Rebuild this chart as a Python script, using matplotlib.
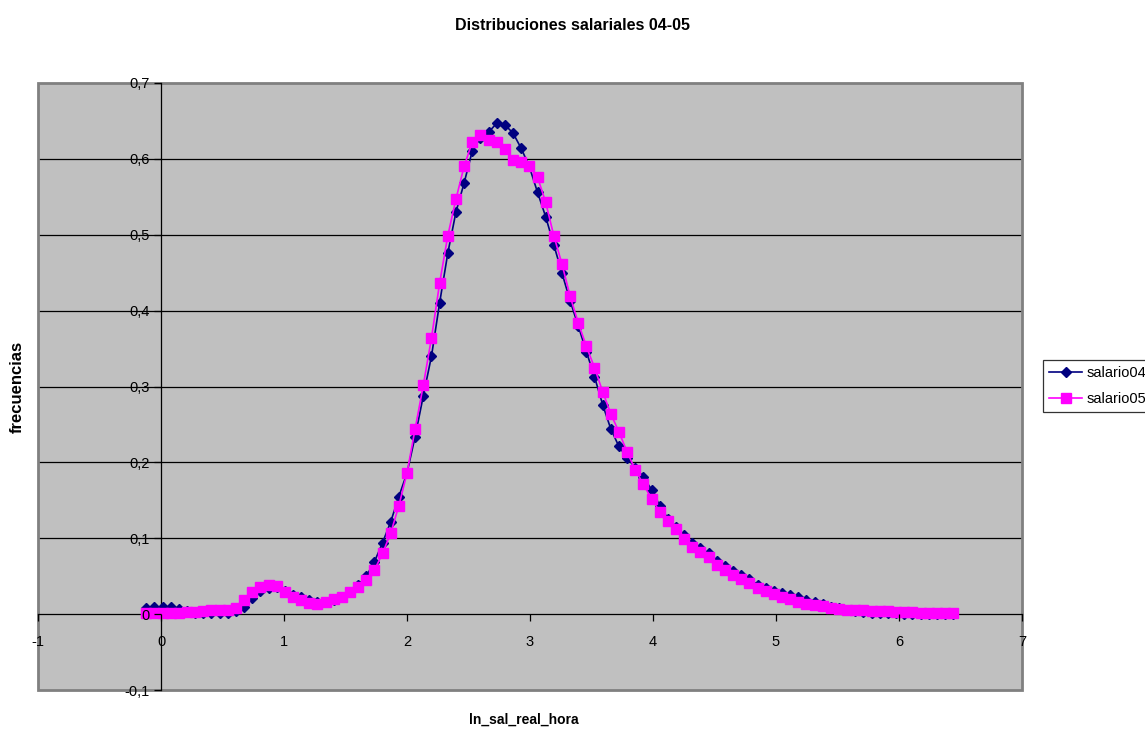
import matplotlib
matplotlib.use("Agg")
import matplotlib.pyplot as plt
from matplotlib.patches import Rectangle

plt.rcParams["font.family"] = ["Liberation Sans", "DejaVu Sans"]

# kernel density grid (ln of real hourly wage)
x_grid = [-0.120, -0.054, 0.013, 0.079, 0.145, 0.211, 0.278, 0.344, 0.410, 0.476,
          0.543, 0.609, 0.675, 0.741, 0.808, 0.874, 0.940, 1.006, 1.073, 1.139,
          1.205, 1.271, 1.338, 1.404, 1.470, 1.537, 1.603, 1.669, 1.735, 1.801,
          1.868, 1.934, 2.000, 2.066, 2.133, 2.199, 2.265, 2.332, 2.398, 2.464,
          2.530, 2.597, 2.663, 2.729, 2.795, 2.862, 2.928, 2.994, 3.061, 3.127,
          3.193, 3.259, 3.326, 3.392, 3.458, 3.524, 3.591, 3.657, 3.723, 3.789,
          3.856, 3.922, 3.988, 4.055, 4.121, 4.187, 4.253, 4.320, 4.386, 4.452,
          4.518, 4.585, 4.651, 4.717, 4.783, 4.850, 4.916, 4.982, 5.049, 5.115,
          5.181, 5.247, 5.314, 5.380, 5.446, 5.512, 5.579, 5.645, 5.711, 5.777,
          5.844, 5.910, 5.976, 6.042, 6.109, 6.175, 6.241, 6.308, 6.374, 6.440]

salario04 = [0.008, 0.009, 0.010, 0.009, 0.007, 0.004, 0.002, 0.001, 0.001, 0.001,
             0.002, 0.004, 0.010, 0.021, 0.030, 0.035, 0.036, 0.031, 0.025, 0.022,
             0.019, 0.016, 0.016, 0.019, 0.023, 0.029, 0.038, 0.050, 0.069, 0.094,
             0.122, 0.155, 0.186, 0.234, 0.288, 0.340, 0.410, 0.476, 0.530, 0.568,
             0.610, 0.628, 0.635, 0.647, 0.645, 0.634, 0.614, 0.590, 0.556, 0.524,
             0.487, 0.450, 0.413, 0.380, 0.346, 0.313, 0.276, 0.244, 0.221, 0.206,
             0.193, 0.181, 0.164, 0.143, 0.126, 0.115, 0.104, 0.094, 0.087, 0.080,
             0.070, 0.063, 0.057, 0.051, 0.046, 0.039, 0.035, 0.031, 0.028, 0.025,
             0.022, 0.019, 0.016, 0.013, 0.010, 0.008, 0.006, 0.004, 0.003, 0.002,
             0.001, 0.001, 0.001, 0.000, 0.000, 0.000, 0.000, 0.000, 0.000, 0.000]

salario05 = [0.001, 0.001, 0.001, 0.002, 0.002, 0.003, 0.003, 0.004, 0.005, 0.005,
             0.006, 0.008, 0.018, 0.029, 0.036, 0.038, 0.037, 0.029, 0.022, 0.018,
             0.015, 0.013, 0.016, 0.020, 0.022, 0.029, 0.036, 0.045, 0.058, 0.080,
             0.107, 0.143, 0.186, 0.244, 0.302, 0.364, 0.436, 0.499, 0.547, 0.590,
             0.622, 0.631, 0.625, 0.622, 0.613, 0.598, 0.596, 0.591, 0.576, 0.543,
             0.499, 0.462, 0.419, 0.384, 0.353, 0.325, 0.293, 0.264, 0.240, 0.214,
             0.190, 0.171, 0.152, 0.135, 0.123, 0.112, 0.099, 0.089, 0.082, 0.075,
             0.065, 0.058, 0.052, 0.046, 0.041, 0.034, 0.030, 0.026, 0.023, 0.020,
             0.016, 0.014, 0.012, 0.011, 0.008, 0.007, 0.006, 0.005, 0.005, 0.004,
             0.004, 0.004, 0.003, 0.003, 0.003, 0.002, 0.002, 0.002, 0.002, 0.002]

x_ticks = [-1, 0, 1, 2, 3, 4, 5, 6, 7]
x_labels = ["-1", "0", "1", "2", "3", "4", "5", "6", "7"]
y_ticks = [-0.1, 0, 0.1, 0.2, 0.3, 0.4, 0.5, 0.6, 0.7]
y_labels = ["-0,1", "0", "0,1", "0,2", "0,3", "0,4", "0,5", "0,6", "0,7"]

W, H = 1145, 729
fig = plt.figure(figsize=(W / 100, H / 100), dpi=100)
fig.patch.set_facecolor("white")
ax = fig.add_axes([38 / W, 1 - 690 / H, (1022 - 38) / W, (690 - 83) / H])
ax.set_facecolor("#C0C0C0")

# horizontal gridlines behind the data (the ends sit on the border)
for yv in y_ticks[2:-1]:
    ax.axhline(yv, color="black", lw=0.9, zorder=0.5)

ax.plot(x_grid, salario04, color="#000080", lw=1.2, marker="D", ms=5,
        mec="#000080", mfc="#000080", label="salario04")
ax.plot(x_grid, salario05, color="#FF00FF", lw=1.2, marker="s", ms=6.5,
        mec="#FF00FF", mfc="#FF00FF", label="salario05")

ax.set_xlim(x_ticks[0], x_ticks[-1])
ax.set_ylim(y_ticks[0], y_ticks[-1])
ax.set_xticks(x_ticks, x_labels)
ax.set_yticks(y_ticks, y_labels)
ax.set_axisbelow(False)

# axes cross at the origin, like a spreadsheet chart
ax.spines["left"].set_position(("data", 0))
ax.spines["bottom"].set_position(("data", 0))
for s in ("top", "right"):
    ax.spines[s].set_visible(False)
for s in ("left", "bottom"):
    ax.spines[s].set_color("black")
    ax.spines[s].set_linewidth(0.9)
    ax.spines[s].set_zorder(1.5)
ax.tick_params(axis="x", direction="out", length=5, width=0.9, pad=10, labelsize=10.5)
ax.tick_params(axis="y", direction="out", length=5, width=0.9, pad=3, labelsize=10.5)

# grey plot-area border
ax.add_patch(Rectangle((0, 0), 1, 1, transform=ax.transAxes, fill=False,
                       ec="#808080", lw=2, zorder=0.6, clip_on=False))

fig.text(0.5, 1 - 26 / H, "Distribuciones salariales 04-05", ha="center", va="center",
         fontsize=11.5, fontweight="bold")
fig.text(524 / W, 1 - 720 / H, "ln_sal_real_hora", ha="center", va="center",
         fontsize=10, fontweight="bold")
fig.text(17 / W, 1 - 387 / H, "frecuencias", ha="center", va="center", rotation=90,
         fontsize=12, fontweight="bold")

leg = fig.legend(loc="upper left", bbox_to_anchor=(1043 / W, 1 - 360 / H),
                 frameon=True, fancybox=False, fontsize=10.5, borderaxespad=0,
                 handlelength=2.3, borderpad=0.4, labelspacing=0.85, handletextpad=0.3)
leg.get_frame().set_edgecolor("black")
leg.get_frame().set_linewidth(0.9)

fig.savefig("out.png", dpi=100)
